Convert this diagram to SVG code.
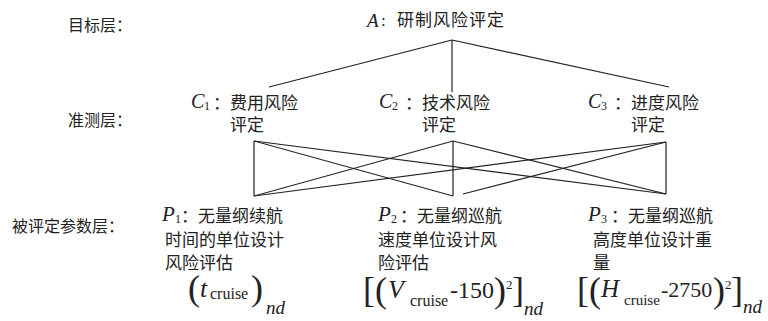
<svg xmlns="http://www.w3.org/2000/svg" width="768" height="321" viewBox="0 0 768 321">
<style>
.cn{font-family:"Noto Sans CJK SC","Liberation Serif",serif;font-size:17px;fill:#222}
.lb{font-family:"Noto Sans CJK SC","Liberation Serif",serif;font-size:16px;fill:#222}
.it{font-family:"Liberation Serif",serif;font-style:italic;fill:#222}
.rm{font-family:"Liberation Serif",serif;font-style:normal;fill:#222}
.f{font-family:"Liberation Serif",serif;fill:#222}
.br{font-family:"Liberation Serif",serif;font-style:normal;font-size:36px}
.ln{stroke:#222;stroke-width:1.2;fill:none}
</style>
<rect width="768" height="321" fill="#fff"/>
<g id="layer-labels">
<text class="lb" x="68" y="31">目标层：</text>
<text class="lb" x="68" y="126">准测层：</text>
<text class="lb" x="12" y="232">被评定参数层：</text>
</g>
<g id="connectors">
<line class="ln" x1="452" y1="40" x2="269" y2="87"/>
<line class="ln" x1="452" y1="40" x2="452" y2="92"/>
<line class="ln" x1="452" y1="40" x2="669" y2="87"/>
<line class="ln" x1="254" y1="141" x2="254" y2="196"/>
<line class="ln" x1="254" y1="141" x2="453" y2="196"/>
<line class="ln" x1="254" y1="141" x2="666" y2="194"/>
<line class="ln" x1="453" y1="141" x2="254" y2="196"/>
<line class="ln" x1="453" y1="141" x2="453" y2="196"/>
<line class="ln" x1="453" y1="141" x2="666" y2="194"/>
<line class="ln" x1="666" y1="142" x2="254" y2="196"/>
<line class="ln" x1="666" y1="142" x2="463" y2="194"/>
<line class="ln" x1="666" y1="142" x2="666" y2="194"/>
</g>
<g id="A">
<text class="f"><tspan class="it" x="367" y="27" font-size="19">A</tspan><tspan class="rm" x="381" y="26" font-size="17">:</tspan><tspan class="cn" x="397" y="26" letter-spacing="1">研制风险评定</tspan></text>
</g>
<g id="C1">
<text class="f"><tspan class="it" x="191" y="108" font-size="20">C</tspan><tspan class="rm" x="204" y="110" font-size="12">1</tspan><tspan class="cn" x="213" y="109">：费用风险</tspan><tspan class="cn" x="230" y="131">评定</tspan></text>
</g>
<g id="C2">
<text class="f"><tspan class="it" x="379" y="108" font-size="20">C</tspan><tspan class="rm" x="392" y="110" font-size="12">2</tspan><tspan class="cn" x="405" y="109">：技术风险</tspan><tspan class="cn" x="422" y="131">评定</tspan></text>
</g>
<g id="C3">
<text class="f"><tspan class="it" x="588" y="108" font-size="20">C</tspan><tspan class="rm" x="601" y="110" font-size="12">3</tspan><tspan class="cn" x="614" y="109">：进度风险</tspan><tspan class="cn" x="631" y="131">评定</tspan></text>
</g>
<g id="P1">
<text class="f"><tspan class="it" x="162" y="221" font-size="21">P</tspan><tspan class="rm" x="175" y="223" font-size="12">1</tspan><tspan class="cn" x="181" y="222">：无量纲续航</tspan><tspan class="cn" x="165" y="246">时间的单位设计</tspan><tspan class="cn" x="165" y="269">风险评估</tspan></text>
<text class="f"><tspan class="br" x="188" y="300">(</tspan><tspan class="it" x="200" y="297" font-size="26">t</tspan><tspan class="rm" x="210" y="299" font-size="16">cruise</tspan><tspan class="br" x="251" y="300">)</tspan><tspan class="it" x="266" y="314" font-size="19">nd</tspan></text>
</g>
<g id="P2">
<text class="f"><tspan class="it" x="378" y="221" font-size="21">P</tspan><tspan class="rm" x="391" y="223" font-size="12">2</tspan><tspan class="cn" x="400" y="222">：无量纲巡航</tspan><tspan class="cn" x="378" y="246">速度单位设计风</tspan><tspan class="cn" x="378" y="269">险评估</tspan></text>
<text class="f"><tspan class="br" x="363" y="302">[</tspan><tspan class="br" x="375" y="302">(</tspan><tspan class="it" x="388" y="298" font-size="26">V</tspan><tspan class="rm" x="410" y="306" font-size="16">cruise</tspan><tspan class="rm" x="450" y="298" font-size="24">-150</tspan><tspan class="br" x="494" y="302">)</tspan><tspan class="rm" x="506" y="289" font-size="13">2</tspan><tspan class="br" x="512" y="302">]</tspan><tspan class="it" x="524" y="315" font-size="19">nd</tspan></text>
</g>
<g id="P3">
<text class="f"><tspan class="it" x="588" y="221" font-size="21">P</tspan><tspan class="rm" x="601" y="223" font-size="12">3</tspan><tspan class="cn" x="611" y="222">：无量纲巡航</tspan><tspan class="cn" x="593" y="246">高度单位设计重</tspan><tspan class="cn" x="593" y="269">量</tspan></text>
<text class="f"><tspan class="br" x="577" y="302">[</tspan><tspan class="br" x="589" y="302">(</tspan><tspan class="it" x="601" y="297" font-size="25">H</tspan><tspan class="rm" x="624" y="305" font-size="15">cruise</tspan><tspan class="rm" x="661" y="297" font-size="22">-2750</tspan><tspan class="br" x="713" y="302">)</tspan><tspan class="rm" x="725" y="289" font-size="13">2</tspan><tspan class="br" x="731" y="302">]</tspan><tspan class="it" x="743" y="313" font-size="19">nd</tspan></text>
</g>
</svg>
